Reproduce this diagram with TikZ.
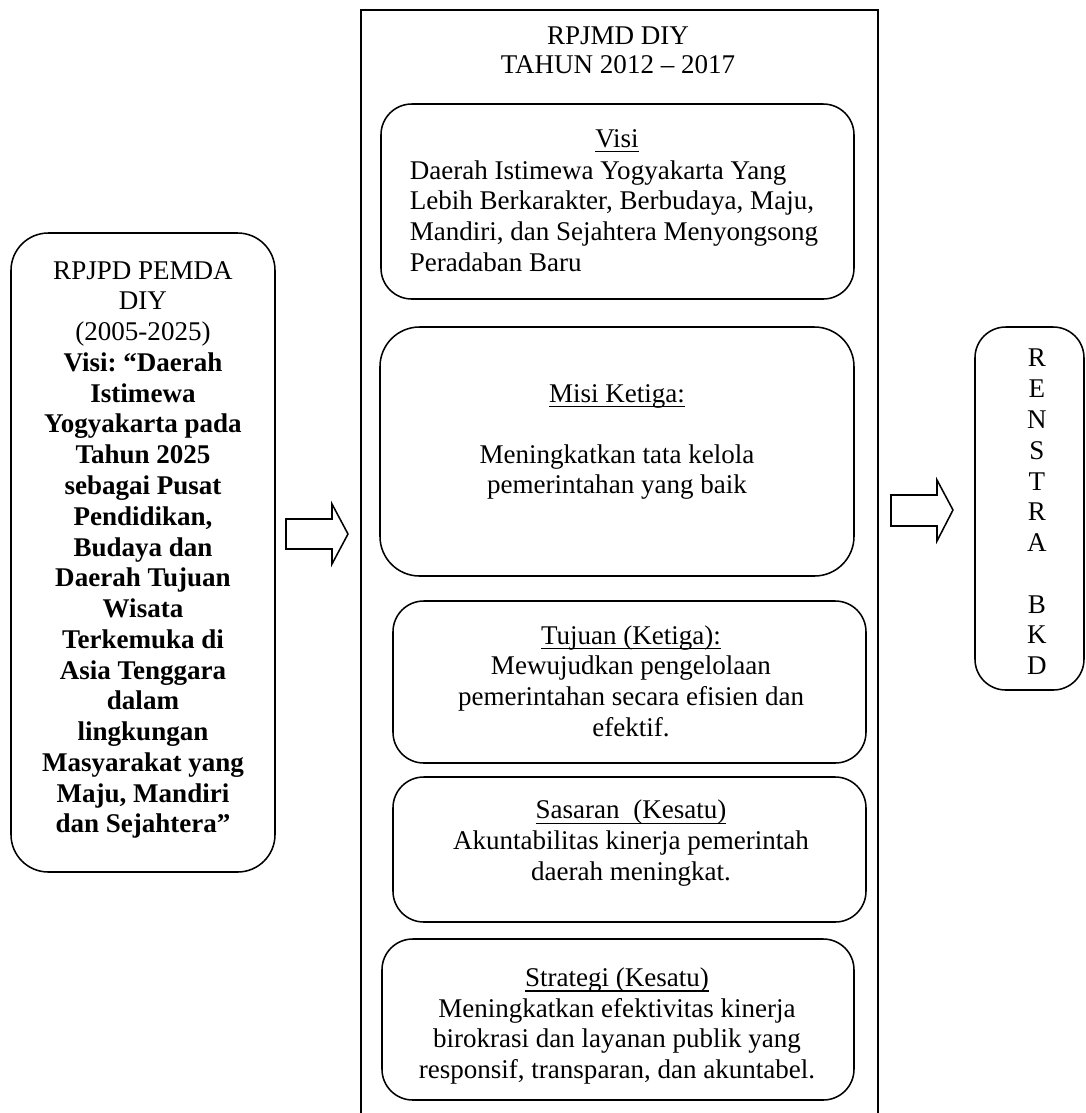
\documentclass[tikz,border=0pt]{standalone}
\usepackage{fontspec}
\setmainfont{Liberation Serif}
\frenchspacing
\newcommand{\garisbawah}[1]{\setbox0\hbox{#1}\rlap{\rule[-2.2pt]{\wd0}{0.55pt}}\box0}
\begin{document}
\begin{tikzpicture}[x=0.455pt, y=-0.455pt, line width=0.7pt,
	teks/.style={font=\fontsize{12.3}{13.9}\selectfont, align=center, inner sep=0pt},
	kotak/.style={rounded corners=14pt}]
	\useasboundingbox (0,0) rectangle (1086,1113); % Rand wie Vorlage

	% linker Kasten
	\draw[kotak, rounded corners=17pt] (11,233) rectangle (275,872);
	\node[teks, font=\fontsize{12.3}{14}\selectfont] (rpjpd) at (143,550) {RPJPD PEMDA\\ DIY\\ (2005-2025)\\
		\textbf{Visi: “Daerah}\\ \textbf{Istimewa}\\ \textbf{Yogyakarta pada}\\ \textbf{Tahun 2025}\\
		\textbf{sebagai Pusat}\\ \textbf{Pendidikan,}\\ \textbf{Budaya dan}\\ \textbf{Daerah Tujuan}\\
		\textbf{Wisata}\\ \textbf{Terkemuka di}\\ \textbf{Asia Tenggara}\\ \textbf{dalam}\\
		\textbf{lingkungan}\\ \textbf{Masyarakat yang}\\ \textbf{Maju, Mandiri}\\ \textbf{dan Sejahtera”}};

	\draw (286,519) -- (332,519) -- (332,504) -- (348,534) -- (332,564) -- (332,549) -- (286,549) -- cycle;

	% mittlerer Rahmen, unten offen
	\draw (361,1113) -- (361,10) -- (878,10) -- (878,1113);
	\node[teks, font=\fontsize{12.3}{13.2}\selectfont] (judul) at (618,50) {RPJMD DIY\\ TAHUN 2012 -- 2017};

	\draw[kotak] (381,104) rectangle (854,299);
	\node[teks] (visi) at (617,141) {\garisbawah{Visi}};
	\node[teks, align=left, anchor=west] (visiisi) at (409,216) {Daerah Istimewa Yogyakarta Yang\\
		Lebih Berkarakter, Berbudaya, Maju,\\ Mandiri, dan Sejahtera Menyongsong\\ Peradaban Baru};

	\draw[kotak, rounded corners=18pt] (380,327) rectangle (854,576);
	\node[teks] (misi) at (617,442) {\garisbawah{Misi Ketiga:}\\[13.9pt] Meningkatkan tata kelola\\ pemerintahan yang baik};

	\draw[kotak] (393,601) rectangle (866,763);
	\node[teks] (tujuan) at (631,681) {\garisbawah{Tujuan (Ketiga):}\\ Mewujudkan pengelolaan\\
		pemerintahan secara efisien dan\\ efektif.};

	\draw[kotak] (393,777) rectangle (866,922);
	\node[teks] (sasaran) at (631,843) {\garisbawah{Sasaran\ \ (Kesatu)}\\ Akuntabilitas kinerja pemerintah\\ daerah meningkat.};

	\draw[kotak] (382,939) rectangle (854,1100);
	\node[teks] (strategi) at (617,1026) {\garisbawah{Strategi (Kesatu)}\\ Meningkatkan efektivitas kinerja\\
		birokrasi dan layanan publik yang\\ responsif, transparan, dan akuntabel.};

	\draw (891,495) -- (937,495) -- (937,480) -- (953,510) -- (937,541) -- (937,526) -- (891,526) -- cycle;

	% rechter Kasten
	\draw[kotak] (975,327) rectangle (1084,690);
	\node[teks, font=\fontsize{12.3}{14}\selectfont] (renstra) at (1037,512) {R\\ E\\ N\\ S\\ T\\ R\\ A\\[14pt] B\\ K\\ D};
\end{tikzpicture}
\end{document}
